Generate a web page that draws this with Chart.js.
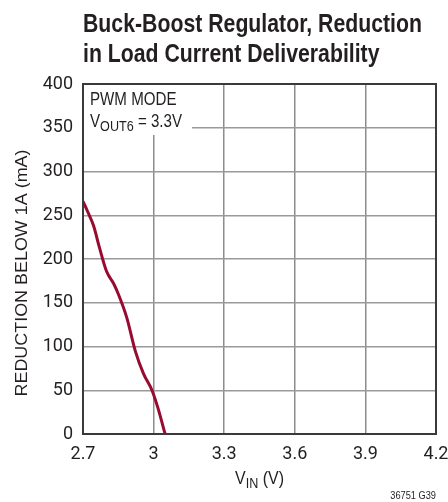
<!DOCTYPE html>
<html>
<head>
<meta charset="utf-8">
<script src="https://cdn.jsdelivr.net/npm/chart.js@4/dist/chart.umd.min.js"></script>
<style>
  html, body { margin: 0; padding: 0; background: #fff; }
  #wrap { width: 448px; height: 502px; }
</style>
</head>
<body>
<div id="wrap"><canvas id="chart" width="448" height="502"></canvas></div>
<script>
// values
const vin = [2.70, 2.72, 2.745, 2.77, 2.80, 2.83, 2.85, 2.886, 2.922, 2.957, 2.993, 3.017, 3.049];
const reduction = [266, 254, 238, 213, 186, 172, 160, 133, 95, 69, 50, 31, 0];
const xTicks = [2.7, 3.0, 3.3, 3.6, 3.9, 4.2];
const xTickLabels = ["2.7", "3", "3.3", "3.6", "3.9", "4.2"];
const yTicks = [0, 50, 100, 150, 200, 250, 300, 350, 400];
const titleLines = ["Buck-Boost Regulator, Reduction", "in Load Current Deliverability"];

const SANS = '"Liberation Sans", Arial, sans-serif';
const TICKFONT = 'Roboto, "Liberation Sans", sans-serif';
const INK = "#231f20";
const SX = 0.84; // squeeze to look like a condensed face

// draw text squeezed horizontally, returns drawn width
function squeezed(c, text, x, y, font, sx) {
  c.save();
  c.font = font;
  c.translate(x, y);
  c.scale(sx, 1);
  c.fillText(text, 0, 0);
  const w = c.measureText(text).width * sx;
  c.restore();
  return w;
}

const extras = {
  id: "extras",
  beforeDatasetsDraw(chart) {
    const c = chart.ctx;
    const a = chart.chartArea;
    c.save();
    c.fillStyle = "#fff";
    c.fillRect(a.left, a.top, 109, 51);
    c.fillStyle = INK;
    squeezed(c, "PWM MODE", a.left + 7, a.top + 21, "18px " + SANS, SX);
    let x = a.left + 7;
    x += squeezed(c, "V", x, a.top + 43, "18px " + SANS, SX);
    x += squeezed(c, "OUT6", x, a.top + 47, "15px " + SANS, SX);
    squeezed(c, " = 3.3V", x, a.top + 43, "18px " + SANS, SX);
    c.restore();
  },
  afterDraw(chart) {
    const c = chart.ctx;
    const a = chart.chartArea;
    c.save();
    c.strokeStyle = "#3a3a3a";
    c.lineWidth = 2;
    c.strokeRect(a.left, a.top, a.right - a.left, a.bottom - a.top);

    c.fillStyle = INK;
    // title, fitted to the reference width
    c.font = "bold 26px " + SANS;
    const tsx = 339 / c.measureText(titleLines[0]).width;
    squeezed(c, titleLines[0], 83, 32, "bold 26px " + SANS, tsx);
    squeezed(c, titleLines[1], 83, 62, "bold 26px " + SANS, tsx);

    // x axis title with subscript
    c.font = "19px " + SANS;
    const w1 = c.measureText("V").width * SX;
    const w3 = c.measureText(" (V)").width * SX;
    c.font = "15px " + SANS;
    const w2 = c.measureText("IN").width * SX;
    let x = (a.left + a.right) / 2 - (w1 + w2 + w3) / 2;
    x += squeezed(c, "V", x, 484, "19px " + SANS, SX);
    x += squeezed(c, "IN", x, 488, "15px " + SANS, SX);
    squeezed(c, " (V)", x, 484, "19px " + SANS, SX);

    // y axis title
    c.save();
    c.translate(27, 273);
    c.rotate(-Math.PI / 2);
    c.font = "16px " + SANS;
    const yt = "REDUCTION BELOW 1A (mA)";
    const ysx = 247 / c.measureText(yt).width;
    squeezed(c, yt, -123.5, 0, "16px " + SANS, ysx);
    c.restore();

    // figure id
    c.font = "11px " + SANS;
    const fid = "36751 G39";
    const fw = c.measureText(fid).width * SX;
    squeezed(c, fid, a.right - fw, 499, "11px " + SANS, SX);
    c.restore();
  }
};

const ctx = document.getElementById("chart").getContext("2d");
new Chart(ctx, {
  type: "line",
  data: {
    datasets: [{
      data: vin.map((v, i) => ({ x: v, y: reduction[i] })),
      borderColor: "#990a30",
      borderWidth: 3,
      pointRadius: 0,
      fill: false,
      cubicInterpolationMode: "monotone"
    }]
  },
  options: {
    responsive: false,
    animation: false,
    layout: { padding: { top: 84, right: 12, left: 0, bottom: 0 } },
    plugins: {
      legend: { display: false },
      tooltip: { enabled: false },
      title: { display: false }
    },
    scales: {
      x: {
        type: "linear",
        min: 2.7,
        max: 4.2,
        afterBuildTicks: (s) => { s.ticks = xTicks.map((v) => ({ value: v })); },
        afterFit: (s) => { s.height = 68; s.paddingLeft = 0; s.paddingRight = 0; },
        ticks: {
          callback: (v, i) => xTickLabels[i],
          font: { size: 18, family: TICKFONT },
          color: INK,
          padding: 10,
          maxRotation: 0
        },
        grid: { color: "#8c8c8c", lineWidth: 1.5, drawTicks: false },
        border: { display: false }
      },
      y: {
        min: 0,
        max: 400,
        afterBuildTicks: (s) => { s.ticks = yTicks.map((v) => ({ value: v })); },
        afterFit: (s) => { s.width = 83; s.paddingTop = 0; s.paddingBottom = 0; },
        ticks: {
          font: { size: 18, family: TICKFONT },
          color: INK,
          padding: 10
        },
        grid: { color: "#9a9a9a", lineWidth: 1.5, drawTicks: false },
        border: { display: false }
      }
    }
  },
  plugins: [extras]
});
</script>
</body>
</html>
